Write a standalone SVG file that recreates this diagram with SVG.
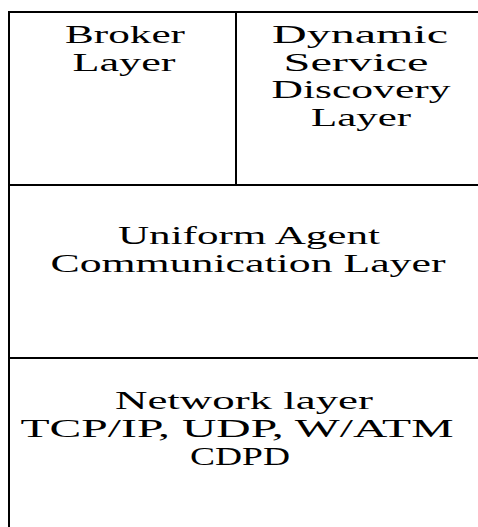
<svg xmlns="http://www.w3.org/2000/svg" width="478" height="527" viewBox="0 0 478 527">
<style>
.ln{stroke:#000;stroke-width:2;fill:none}
.t{font-family:"Liberation Serif","Times New Roman",serif;font-size:25px;fill:#000;text-anchor:middle}
</style>
<rect width="478" height="527" fill="#fff"/>
<g id="connectors">
<line class="ln" x1="9" y1="12" x2="478" y2="12"/>
<line class="ln" x1="9" y1="11" x2="9" y2="527"/>
<line class="ln" x1="236" y1="12" x2="236" y2="185"/>
<line class="ln" x1="9" y1="185" x2="478" y2="185"/>
<line class="ln" x1="9" y1="358" x2="478" y2="358"/>
</g>
<g id="broker">
<text class="t" x="125" y="43" textLength="120" lengthAdjust="spacingAndGlyphs">Broker</text>
<text class="t" x="124" y="71" textLength="103" lengthAdjust="spacingAndGlyphs">Layer</text>
</g>
<g id="discovery">
<text class="t" x="360" y="43" textLength="176" lengthAdjust="spacingAndGlyphs">Dynamic</text>
<text class="t" x="356" y="71" textLength="145" lengthAdjust="spacingAndGlyphs">Service</text>
<text class="t" x="361" y="98" textLength="179" lengthAdjust="spacingAndGlyphs">Discovery</text>
<text class="t" x="361" y="126" textLength="100" lengthAdjust="spacingAndGlyphs">Layer</text>
</g>
<g id="uniform">
<text class="t" x="249" y="244" textLength="262" lengthAdjust="spacingAndGlyphs">Uniform Agent</text>
<text class="t" x="248" y="272" textLength="395" lengthAdjust="spacingAndGlyphs">Communication Layer</text>
</g>
<g id="network">
<text class="t" x="244" y="409" textLength="258" lengthAdjust="spacingAndGlyphs">Network layer</text>
<text class="t" x="237" y="437" textLength="433" lengthAdjust="spacingAndGlyphs">TCP/IP, UDP, W/ATM</text>
<text class="t" x="240" y="465" textLength="100" lengthAdjust="spacingAndGlyphs">CDPD</text>
</g>
</svg>
